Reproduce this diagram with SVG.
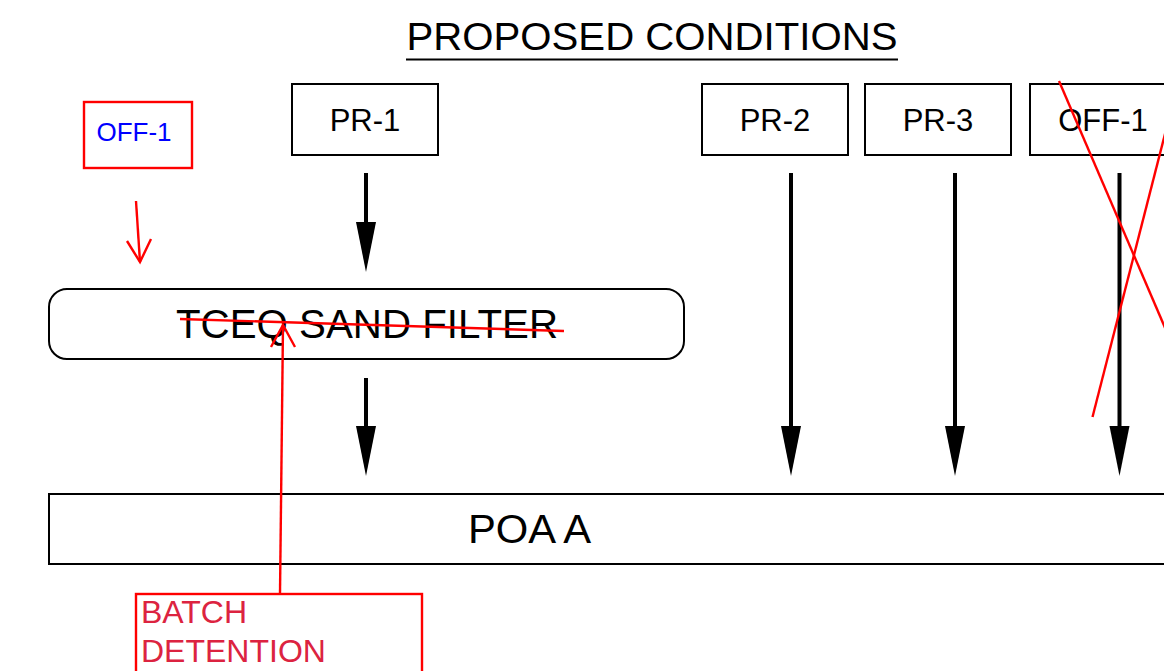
<svg xmlns="http://www.w3.org/2000/svg" width="1164" height="671" viewBox="0 0 1164 671">
<style>
text{font-family:"Liberation Sans",Arial,sans-serif;}
.box{fill:#fff;stroke:#000;stroke-width:2;}
.lbl{font-size:31px;fill:#000;text-anchor:middle;}
.big{font-size:40px;fill:#000;}
.shaft{stroke:#000;stroke-width:4;fill:none;}
.head{fill:#000;stroke:none;}
.red{stroke:#ff0000;stroke-width:2.4;fill:none;}
.note{font-size:32px;fill:#dc2340;}
</style>
<rect width="1164" height="671" fill="#fff"/>
<g id="title">
<text x="652" y="50" font-size="39.5" text-anchor="middle" textLength="491" lengthAdjust="spacingAndGlyphs">PROPOSED CONDITIONS</text>
<line x1="406" y1="59.5" x2="898" y2="59.5" stroke="#000" stroke-width="2"/>
</g>
<g id="pr1"><rect class="box" x="292" y="84" width="146" height="71"/><text class="lbl" x="365" y="131">PR-1</text></g>
<g id="pr2"><rect class="box" x="702" y="84" width="146" height="71"/><text class="lbl" x="775" y="131">PR-2</text></g>
<g id="pr3"><rect class="box" x="865" y="84" width="146" height="71"/><text class="lbl" x="938" y="131">PR-3</text></g>
<g id="off1"><rect class="box" x="1030" y="84" width="146" height="71"/><text class="lbl" x="1103" y="131">OFF-1</text></g>
<g id="sandfilter"><rect class="box" x="49" y="289" width="635" height="70" rx="18" ry="18"/><text class="big" x="176" y="338" textLength="382" lengthAdjust="spacingAndGlyphs">TCEQ SAND FILTER</text></g>
<g id="poa"><rect class="box" x="49" y="494" width="1130" height="70"/><text class="big" x="468" y="543" textLength="123" lengthAdjust="spacingAndGlyphs">POA A</text></g>
<g id="connectors">
<line class="shaft" x1="366" y1="173" x2="366" y2="226"/><polygon class="head" points="356,222 376,222 366,272"/>
<line class="shaft" x1="366" y1="378" x2="366" y2="430"/><polygon class="head" points="356,426 376,426 366,476"/>
<line class="shaft" x1="791" y1="173" x2="791" y2="430"/><polygon class="head" points="781,426 801,426 791,476"/>
<line class="shaft" x1="955" y1="173" x2="955" y2="430"/><polygon class="head" points="945,426 965,426 955,476"/>
<line class="shaft" x1="1119.5" y1="173" x2="1119.5" y2="430"/><polygon class="head" points="1109.5,426 1129.5,426 1119.5,476"/>
</g>
<g id="markup">
<rect x="84" y="102" width="108" height="66" fill="none" stroke="#ff0000" stroke-width="2.4"/>
<text x="134" y="141" font-size="26" fill="#0000ff" text-anchor="middle">OFF-1</text>
<line class="red" x1="136" y1="201" x2="140" y2="262"/>
<polyline class="red" points="127,241 140,262 151,239"/>
<line class="red" x1="180" y1="319" x2="564" y2="331"/>
<line class="red" x1="280" y1="594" x2="283" y2="325"/>
<polyline class="red" points="271,347 283,325 295,347"/>
<rect x="136" y="594" width="286" height="100" fill="none" stroke="#ff0000" stroke-width="2.4"/>
<text class="note" x="141" y="623">BATCH</text>
<text class="note" x="141" y="662">DETENTION</text>
<line class="red" x1="1059" y1="81" x2="1175" y2="351"/>
<line class="red" x1="1092.5" y1="417" x2="1175" y2="95"/>
</g>
</svg>
